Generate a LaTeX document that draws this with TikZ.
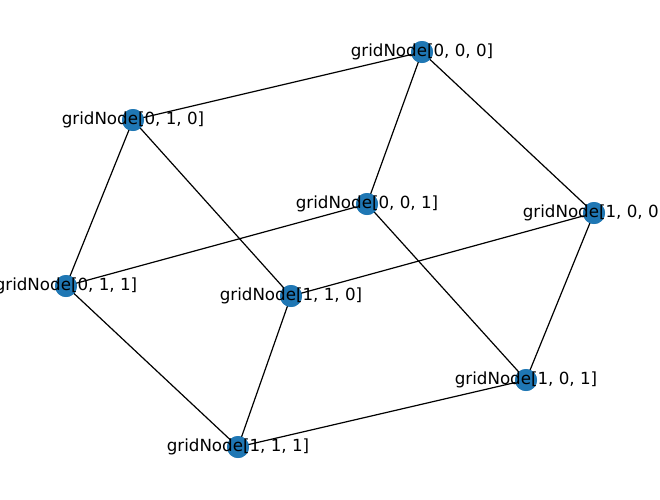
\documentclass[tikz,border=0pt]{standalone}
\usepackage{fontspec}
\setmainfont{DejaVu Sans}
\definecolor{nxblue}{HTML}{1F77B4}
\tikzset{gnode/.style={circle,fill=nxblue,minimum size=22pt,inner sep=0pt},
glabel/.style={font=\fontsize{16.7pt}{19pt}\selectfont,inner sep=0pt}}
\begin{document}
\begin{tikzpicture}[x=1pt,y=-1pt]
\useasboundingbox (0,0) rectangle (660,499);
\clip (0,0) rectangle (660,499);
% vertices of the cube
\node[gnode] (n000) at (422,52) {};
\node[gnode] (n010) at (133,120) {};
\node[gnode] (n001) at (367,204) {};
\node[gnode] (n100) at (594,213) {};
\node[gnode] (n011) at (66,286) {};
\node[gnode] (n110) at (291,296) {};
\node[gnode] (n101) at (526,380) {};
\node[gnode] (n111) at (238,447) {};
% edges
\foreach \a/\b in {000/010,000/001,000/100,010/011,010/110,001/011,001/101,100/110,100/101,011/111,110/111,101/111}
  \draw[black,line width=1.2pt] (n\a.center) -- (n\b.center);
\foreach \n/\t in {000/{0, 0, 0},010/{0, 1, 0},001/{0, 0, 1},100/{1, 0, 0},011/{0, 1, 1},110/{1, 1, 0},101/{1, 0, 1},111/{1, 1, 1}}
  {\node[gnode] at (n\n) {};
   \node[glabel] at (n\n) {gridNode[\t]};}
\end{tikzpicture}
\end{document}
